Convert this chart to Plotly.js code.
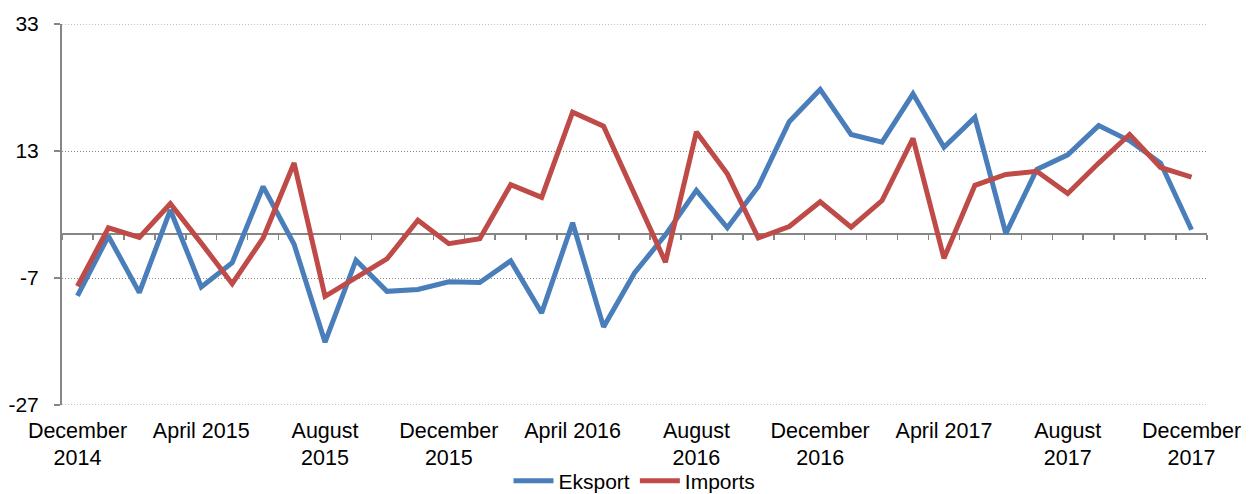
<!DOCTYPE html>
<html>
<head>
<meta charset="utf-8">
<script src="https://cdn.plot.ly/plotly-3.0.1.min.js"></script>
<style>html,body{margin:0;padding:0;background:#fff}#chart{width:1250px;height:494px}</style>
</head>
<body>
<div id="chart"></div>
<script>
const months = [
  "December 2014","January 2015","February 2015","March 2015","April 2015","May 2015","June 2015",
  "July 2015","August 2015","September 2015","October 2015","November 2015","December 2015",
  "January 2016","February 2016","March 2016","April 2016","May 2016","June 2016","July 2016",
  "August 2016","September 2016","October 2016","November 2016","December 2016","January 2017",
  "February 2017","March 2017","April 2017","May 2017","June 2017","July 2017","August 2017",
  "September 2017","October 2017","November 2017","December 2017"
];
const eksport = [
  -9.8, -0.4, -9.3, 3.7, -8.4, -4.6, 7.4, -1.7, -17.1, -4.2, -9.1, -8.8, -7.6,
  -7.7, -4.3, -12.5, 1.7, -14.7, -6.2, -0.2, 6.8, 0.9, 7.4, 17.6, 22.7,
  15.6, 14.4, 22.0, 13.6, 18.3, 0.0, 10.1, 12.4, 17.0, 14.6, 11.1, 0.6
];
const imports = [
  -8.3, 0.9, -0.6, 4.7, -1.5, -7.9, -0.7, 11.1, -9.9, -7.0, -4.0, 2.1, -1.6,
  -0.8, 7.7, 5.7, 19.1, 16.9, 6.2, -4.5, 16.0, 9.4, -0.7, 1.1, 5.0,
  1.0, 5.2, 15.0, -3.9, 7.6, 9.3, 9.8, 6.3, 11.1, 15.6, 10.4, 8.9
];
const tickMonths = ["December 2014","April 2015","August 2015","December 2015","April 2016",
  "August 2016","December 2016","April 2017","August 2017","December 2017"];
const tickLabels = ["December<br>2014","April 2015","August<br>2015","December<br>2015","April 2016",
  "August<br>2016","December<br>2016","April 2017","August<br>2017","December<br>2017"];
const yTicks = [-27, -7, 13, 33];
const yTickText = ["-27", "-7", "13", "33"];

const gray = "#868686";
const fam = "Liberation Sans, Arial, sans-serif";
const xfont = {family: fam, size: 21.5, color: "#000"};
const yfont = {family: fam, size: 21, color: "#000"};

const boundaries = [];
for (let i = 0; i <= months.length; i++) boundaries.push(i - 0.5);

const traces = [
  {x: months, y: eksport, name: "Eksport", type: "scatter", mode: "lines",
   line: {color: "#4A7EBB", width: 5}},
  {x: months, y: imports, name: "Imports", type: "scatter", mode: "lines",
   line: {color: "#BE4B48", width: 5}},
  {x: [0], y: [null], xaxis: "x2", yaxis: "y", showlegend: false, hoverinfo: "skip",
   mode: "lines", type: "scatter"}
];

const edgeGrid = [yTicks[0], yTicks[yTicks.length - 1]].map(v => ({
  type: "line", xref: "paper", yref: "y", x0: 0, x1: 1, y0: v, y1: v,
  line: {color: gray, width: 1, dash: "1px,2px"}, layer: "below"
}));

const layout = {
  width: 1250, height: 494,
  margin: {l: 62, r: 43, t: 24, b: 89, autoexpand: false},
  paper_bgcolor: "#fff", plot_bgcolor: "#fff",
  font: xfont,
  showlegend: true,
  legend: {orientation: "h", x: 0.5, xanchor: "center", y: -0.2, yanchor: "middle",
    bgcolor: "rgba(0,0,0,0)", font: {family: fam, size: 21, color: "#000"}, itemwidth: 40},
  shapes: edgeGrid,
  xaxis: {
    type: "category", categoryorder: "array", categoryarray: months,
    range: [-0.5, months.length - 0.5],
    tickmode: "array", tickvals: tickMonths, ticktext: tickLabels,
    ticks: "", showline: false, showgrid: false, zeroline: false,
    tickfont: xfont, ticklabelstandoff: 10, automargin: false
  },
  xaxis2: {
    type: "linear", overlaying: "x", anchor: "free", position: 27 / 60,
    range: [-0.5, months.length - 0.5],
    tickmode: "array", tickvals: boundaries,
    ticks: "outside", ticklen: 5, tickwidth: 1.5, tickcolor: gray,
    showline: true, linecolor: gray, linewidth: 2,
    showticklabels: false, showgrid: false, zeroline: false,
    layer: "below traces"
  },
  yaxis: {
    range: [-27, 33], tickmode: "array", tickvals: yTicks, ticktext: yTickText,
    ticks: "outside", ticklen: 6, tickcolor: gray, tickwidth: 1.5,
    showline: true, linecolor: gray, linewidth: 2,
    showgrid: true, gridcolor: gray, griddash: "1px,2px", gridwidth: 1,
    zeroline: false, tickfont: yfont, ticklabelstandoff: 11, automargin: false
  }
};

Plotly.newPlot("chart", traces, layout, {staticPlot: true, displayModeBar: false});
</script>
</body>
</html>
